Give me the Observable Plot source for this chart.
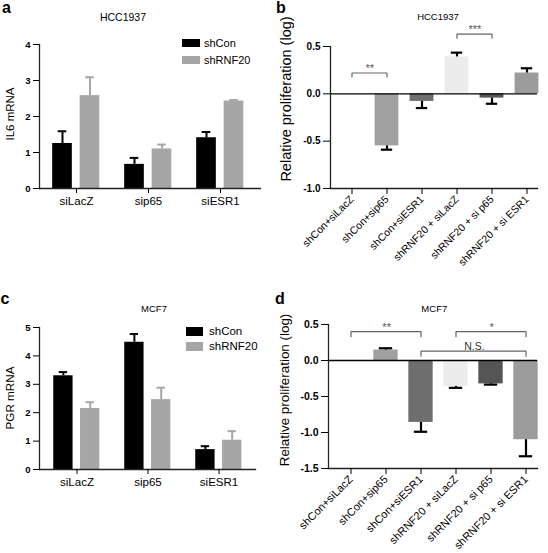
<!DOCTYPE html>
<html><head><meta charset="utf-8">
<script src="https://cdn.jsdelivr.net/npm/d3@7"></script>
<script src="https://cdn.jsdelivr.net/npm/@observablehq/plot@0.6"></script>
<style>
body{margin:0;background:#fff;font-family:"Liberation Sans",Arial,sans-serif;}
#fig{position:relative;width:548px;height:553px;overflow:hidden;background:#fff;}
.panel{position:absolute;}
.lbl{position:absolute;white-space:nowrap;color:#000;line-height:1;}
.sw{position:absolute;}
</style></head><body><div id="fig"></div>
<script>
// ---------- data ----------
const mrnaCats = ["siLacZ", "sip65", "siESR1"];
const mrnaSeries = ["shCon", "shRNF20"];
const seriesColors = ["#000000", "#a6a6a6"];
// panel a: IL6 mRNA (HCC1937)
const il6Con = [1.25, 0.67, 1.41];
const il6ConErr = [0.34, 0.18, 0.16];
const il6Rnf = [2.58, 1.10, 2.43];
const il6RnfErr = [0.51, 0.12, 0.03];
// panel c: PGR mRNA (MCF7)
const pgrCon = [3.30, 4.48, 0.70];
const pgrConErr = [0.13, 0.29, 0.12];
const pgrRnf = [2.15, 2.46, 1.03];
const pgrRnfErr = [0.22, 0.42, 0.32];
// panels b, d: relative proliferation (log)
const prolifCats = ["shCon+siLacZ", "shCon+sip65", "shCon+siESR1", "shRNF20 + siLacZ", "shRNF20 + si p65", "shRNF20 + si ESR1"];
const prolifColors = ["#000000", "#a0a0a0", "#6e6e6e", "#ececec", "#555555", "#9c9c9c"];
const hccProlif = [0, -0.55, -0.08, 0.39, -0.045, 0.22];
const hccProlifErr = [0, 0.04, 0.07, 0.045, 0.06, 0.05];
const mcfProlif = [0, 0.145, -0.86, -0.36, -0.325, -1.10];
const mcfProlifErr = [0, 0.025, 0.13, 0.02, 0.01, 0.23];
const hccBrackets = [
  {from: "shCon+siLacZ", to: "shCon+sip65", level: 0.22, label: "**"},
  {from: "shRNF20 + siLacZ", to: "shRNF20 + si p65", level: 0.63, label: "***"}
];
const mcfBrackets = [
  {from: "shCon+siLacZ", to: "shCon+siESR1", level: 0.40, label: "**"},
  {from: "shRNF20 + siLacZ", to: "shRNF20 + si ESR1", level: 0.40, label: "*"},
  {from: "shCon+siESR1", to: "shRNF20 + si ESR1", level: 0.13, label: "N.S."}
];
const titles = {a: "HCC1937", b: "HCC1937", c: "MCF7", d: "MCF7"};
const yLabels = {a: "IL6 mRNA", b: "Relative proliferation (log)", c: "PGR mRNA", d: "Relative proliferation (log)"};

// ---------- helpers ----------
const FONT = '"Liberation Sans", Arial, sans-serif';
const fig = document.getElementById("fig");
function addPanel(node, left, top) {
  const d = document.createElement("div");
  d.className = "panel"; d.style.left = left + "px"; d.style.top = top + "px";
  d.appendChild(node); fig.appendChild(d);
}
function addText(txt, x, baseline, size, weight, anchor) {
  const el = document.createElement("div");
  el.className = "lbl"; el.textContent = txt;
  el.style.fontSize = size + "px"; el.style.fontWeight = weight || "normal";
  el.style.top = (baseline - 0.846 * size) + "px";
  el.style.left = x + "px";
  if (anchor === "middle") el.style.transform = "translateX(-50%)";
  fig.appendChild(el);
}
function addVText(txt, cx, cy, size) {
  const el = document.createElement("div");
  el.className = "lbl"; el.textContent = txt;
  el.style.fontSize = size + "px";
  el.style.left = cx + "px"; el.style.top = cy + "px";
  el.style.transform = "translate(-50%,-50%) rotate(-90deg)";
  fig.appendChild(el);
}
function addSwatch(x, y, w, h, color) {
  const el = document.createElement("div");
  el.className = "sw";
  Object.assign(el.style, {left: x + "px", top: y + "px", width: w + "px", height: h + "px", background: color});
  fig.appendChild(el);
}

function mrnaPanel(cfg) {
  const rows = [];
  mrnaCats.forEach((c, i) => {
    rows.push({cat: c, series: mrnaSeries[0], value: cfg.con[i], hi: cfg.con[i] + cfg.conErr[i]});
    rows.push({cat: c, series: mrnaSeries[1], value: cfg.rnf[i], hi: cfg.rnf[i] + cfg.rnfErr[i]});
  });
  const bw = (cfg.xr[1] - cfg.xr[0]) / mrnaCats.length;
  const barW = 20, capW = 9;
  const marks = [];
  mrnaSeries.forEach((s, si) => {
    const sub = rows.filter(r => r.series === s);
    const dx = cfg.offsets[si];
    marks.push(Plot.barY(sub, {x: "cat", y: "value", fill: "series", dx, insetLeft: (bw - barW) / 2, insetRight: (bw - barW) / 2}));
    marks.push(Plot.ruleX(sub, {x: "cat", y1: "value", y2: "hi", stroke: "series", strokeWidth: 2, dx}));
    marks.push(Plot.tickY(sub, {x: "cat", y: "hi", stroke: "series", strokeWidth: 2, dx, insetLeft: (bw - capW) / 2, insetRight: (bw - capW) / 2}));
  });
  marks.push(Plot.frame({anchor: "left", stroke: "#222", strokeWidth: 1.3}));
  marks.push(Plot.frame({anchor: "bottom", stroke: "#222", strokeWidth: 1.3}));
  marks.push(Plot.axisY({ticks: cfg.yTicks, tickSize: 6, tickPadding: 3, fontSize: 9.5, fontWeight: "bold", label: null, tickFormat: d => String(d)}));
  marks.push(Plot.axisX({tickSize: 5, tickPadding: 3, fontSize: 11.5, label: null}));
  return Plot.plot({
    width: 274, height: cfg.height,
    marginLeft: cfg.ml, marginRight: cfg.mr, marginTop: cfg.mt, marginBottom: cfg.mb,
    style: {fontFamily: FONT, color: "#000", background: "transparent", overflow: "visible"},
    x: {type: "band", domain: mrnaCats, range: cfg.xr, padding: 0, label: null},
    y: {domain: cfg.yDomain, label: null},
    color: {domain: mrnaSeries, range: seriesColors},
    marks
  });
}

function prolifPanel(cfg) {
  const rows = prolifCats.map((c, i) => ({
    cat: c, value: cfg.vals[i], err: cfg.errs[i],
    end: cfg.vals[i] + (cfg.vals[i] < 0 ? -cfg.errs[i] : cfg.errs[i])
  }));
  const withErr = rows.filter(r => r.err > 0);
  const step = (cfg.xr[1] - cfg.xr[0]) / prolifCats.length;
  const barW = cfg.barW, capW = cfg.capW;
  const frameH = cfg.height - cfg.mt - cfg.mb;
  const pxPerUnit = frameH / (cfg.yDomain[1] - cfg.yDomain[0]);
  const drop = cfg.dropPx / pxPerUnit;
  const pts = [];
  cfg.brackets.forEach((b, k) => {
    pts.push({id: k, cat: b.from, y: b.level - drop});
    pts.push({id: k, cat: b.from, y: b.level});
    pts.push({id: k, cat: b.to, y: b.level});
    pts.push({id: k, cat: b.to, y: b.level - drop});
  });
  const marks = [
    Plot.barY(rows, {x: "cat", y: "value", fill: "cat", insetLeft: (step - barW) / 2, insetRight: (step - barW) / 2}),
    Plot.ruleX(withErr, {x: "cat", y1: "value", y2: "end", stroke: "#000", strokeWidth: 2.2}),
    Plot.tickY(withErr, {x: "cat", y: "end", stroke: "#000", strokeWidth: 2.2, insetLeft: (step - capW) / 2, insetRight: (step - capW) / 2}),
    Plot.ruleY([0], {stroke: "#000", strokeWidth: 1.4}),
    Plot.line(pts, {x: "cat", y: "y", z: "id", stroke: "#666", strokeWidth: 1.2}),
    Plot.frame({anchor: "left", stroke: "#222", strokeWidth: 1.3}),
    Plot.frame({anchor: "bottom", stroke: "#222", strokeWidth: 1.3}),
    Plot.axisY({ticks: cfg.yTicks, tickSize: 7, tickPadding: 3, fontSize: cfg.ytSize, fontWeight: "bold", label: null, tickFormat: d => d.toFixed(1)}),
    Plot.axisX({tickSize: 6, tickPadding: 3, tickRotate: -45, fontSize: cfg.xtSize, label: null})
  ];
  cfg.brackets.forEach(b => {
    const span = prolifCats.indexOf(b.to) - prolifCats.indexOf(b.from);
    const isStar = b.label.startsWith("*");
    marks.push(Plot.text([b], {x: "from", y: "level", text: "label", dx: span * step / 2, dy: -1,
      lineAnchor: "bottom", fontSize: isStar ? 11 : 10.5, fill: isStar ? "#555" : "#333"}));
  });
  return Plot.plot({
    width: 274, height: cfg.height,
    marginLeft: cfg.ml, marginRight: cfg.mr, marginTop: cfg.mt, marginBottom: cfg.mb,
    style: {fontFamily: FONT, color: "#000", background: "transparent", overflow: "visible"},
    x: {type: "band", domain: prolifCats, range: cfg.xr, padding: 0, label: null},
    y: {domain: cfg.yDomain, label: null},
    color: {domain: prolifCats, range: prolifColors},
    marks
  });
}

// ---------- panels ----------
addPanel(mrnaPanel({
  con: il6Con, conErr: il6ConErr, rnf: il6Rnf, rnfErr: il6RnfErr,
  height: 270, ml: 39, mr: 14, mt: 44, mb: 82, xr: [39, 256], offsets: [-14, 13.5],
  yDomain: [0, 4], yTicks: [0, 1, 2, 3, 4]
}), 0, 0);

addPanel(prolifPanel({
  vals: hccProlif, errs: hccProlifErr, brackets: hccBrackets,
  height: 270, ml: 56, mr: 11, mt: 46, mb: 82, xr: [58, 272],
  yDomain: [-1, 0.5], yTicks: [-1, -0.5, 0, 0.5], ytSize: 10, xtSize: 10.5,
  barW: 24.5, capW: 12, dropPx: 4
}), 274, 0);

addPanel(mrnaPanel({
  con: pgrCon, conErr: pgrConErr, rnf: pgrRnf, rnfErr: pgrRnfErr,
  height: 283, ml: 39, mr: 19, mt: 57, mb: 84, xr: [39.5, 254.5], offsets: [-13.6, 13.2],
  yDomain: [0, 5], yTicks: [0, 1, 2, 3, 4, 5]
}), 0, 270);

addPanel(prolifPanel({
  vals: mcfProlif, errs: mcfProlifErr, brackets: mcfBrackets,
  height: 283, ml: 54, mr: 11, mt: 54, mb: 85, xr: [57.2, 271.1],
  yDomain: [-1.5, 0.5], yTicks: [-1.5, -1, -0.5, 0, 0.5], ytSize: 10.5, xtSize: 11,
  barW: 25, capW: 14, dropPx: 5
}), 274, 270);

// ---------- axis titles, panel titles, letters, legends ----------
addVText(yLabels.a, 11, 114, 11.5);
addVText(yLabels.b, 286, 99, 14.5);
addVText(yLabels.c, 10, 398, 11.7);
addVText(yLabels.d, 285, 390, 13.4);

addText("a", 2, 13.3, 16, "bold");
addText("b", 276, 13.3, 16, "bold");
addText("c", 0.5, 305, 16, "bold");
addText("d", 275, 305, 16, "bold");
addText(titles.a, 123, 20.7, 10.5, "normal", "middle");
addText(titles.b, 438, 20.3, 9.5, "normal", "middle");
addText(titles.c, 154, 311.7, 9.5, "normal", "middle");
addText(titles.d, 434.3, 312, 9.5, "normal", "middle");

// legend panel a
addSwatch(182, 39, 18, 7.5, seriesColors[0]);
addSwatch(182, 56, 18, 7.5, seriesColors[1]);
addText(mrnaSeries[0], 204, 47, 11);
addText(mrnaSeries[1], 204, 64, 11);
// legend panel c
addSwatch(186, 327, 17, 8.5, seriesColors[0]);
addSwatch(186, 342, 17, 8.5, seriesColors[1]);
addText(mrnaSeries[0], 209, 335.3, 11.5);
addText(mrnaSeries[1], 209, 351, 11.5);
</script>
</body></html>
